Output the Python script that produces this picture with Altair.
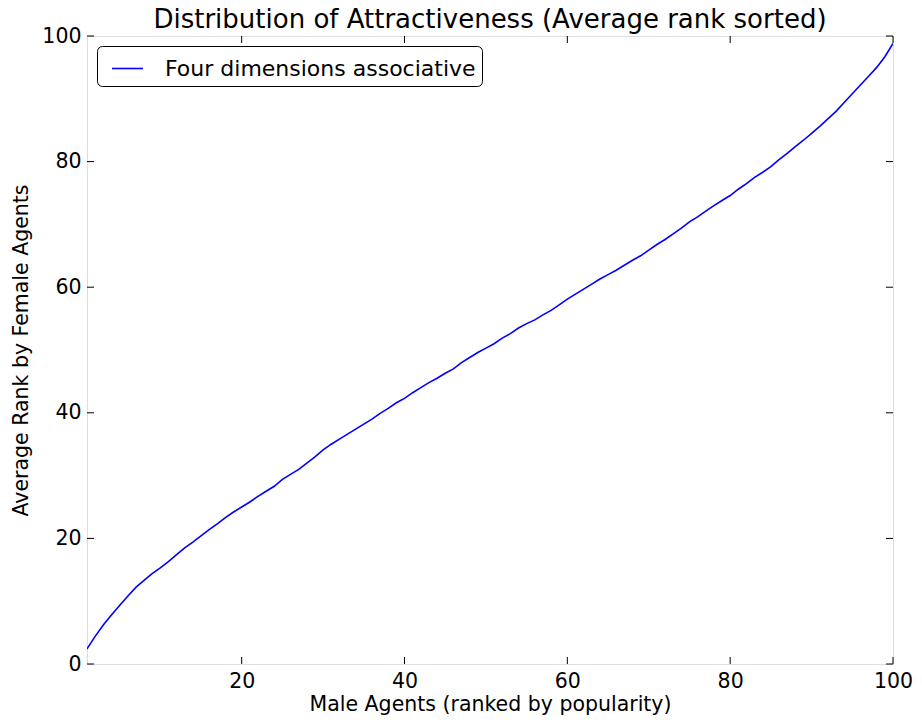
import altair as alt
import pandas as pd

ranks = list(range(1, 101))
avg_rank = [
    2.4, 4.4, 6.2, 7.8, 9.3, 10.8, 12.2, 13.3, 14.4, 15.3,
    16.3, 17.4, 18.5, 19.4, 20.4, 21.4, 22.3, 23.3, 24.2, 25.0,
    25.8, 26.7, 27.5, 28.3, 29.4, 30.2, 31.0, 32.0, 33.0, 34.1,
    35.0, 35.8, 36.6, 37.4, 38.2, 39.0, 39.9, 40.7, 41.6, 42.3,
    43.2, 44.0, 44.8, 45.5, 46.3, 47.0, 48.0, 48.8, 49.6, 50.3,
    51.0, 51.9, 52.6, 53.5, 54.2, 54.8, 55.6, 56.3, 57.2, 58.1,
    58.9, 59.7, 60.5, 61.3, 62.0, 62.7, 63.5, 64.3, 65.0, 65.9,
    66.8, 67.6, 68.5, 69.4, 70.4, 71.2, 72.1, 73.0, 73.8, 74.6,
    75.6, 76.5, 77.5, 78.3, 79.2, 80.3, 81.3, 82.4, 83.4, 84.5,
    85.6, 86.8, 88.0, 89.4, 90.8, 92.2, 93.6, 95.0, 96.7, 98.8,
]
series_name = "Four dimensions associative"
x_ticks = [20, 40, 60, 80, 100]
y_ticks = [0, 20, 40, 60, 80, 100]

W, H = 806, 628
TICK = 7
FONT = "DejaVu Sans"
FS = 20.5

df = pd.DataFrame({"rank": ranks, "avg": avg_rank, "series": series_name})
xt = pd.DataFrame({"rank": x_ticks})
yt = pd.DataFrame({"avg": y_ticks})

x_scale = alt.Scale(domain=[1, 100], nice=False, zero=False)
y_scale = alt.Scale(domain=[0, 100], nice=False, zero=False)

x_axis = alt.Axis(values=x_ticks, title="Male Agents (ranked by popularity)",
                  ticks=False, grid=False, domain=False, labelFontSize=FS,
                  labelPadding=7, titleFontSize=FS, titleFontWeight="normal",
                  titlePadding=3, labelColor="black", titleColor="black",
                  labelFont=FONT, titleFont=FONT, labelFlush=False)
y_axis = alt.Axis(values=y_ticks, title="Average Rank by Female Agents",
                  ticks=False, grid=False, domain=False, labelFontSize=FS,
                  labelPadding=6, titleFontSize=FS, titleFontWeight="normal",
                  titlePadding=10, labelColor="black", titleColor="black",
                  labelFont=FONT, titleFont=FONT, labelFlush=False)

line = alt.Chart(df).mark_line(strokeWidth=1.6, clip=True).encode(
    x=alt.X("rank:Q", scale=x_scale, axis=x_axis),
    y=alt.Y("avg:Q", scale=y_scale, axis=y_axis),
    color=alt.Color("series:N", scale=alt.Scale(range=["#0000ff"]),
                    legend=alt.Legend(title=None, orient="top-left",
                                      offset=10, padding=6,
                                      strokeColor="black", cornerRadius=5,
                                      fillColor="white",
                                      symbolType="stroke", symbolSize=960,
                                      symbolStrokeWidth=1.6, symbolOffset=8,
                                      labelFontSize=22, labelFont=FONT,
                                      labelColor="black", labelOffset=21,
                                      labelLimit=0)),
)

tick_style = dict(color="black", strokeWidth=1)
xb = alt.Chart(xt).mark_rule(**tick_style).encode(
    x=alt.X("rank:Q", scale=x_scale, axis=x_axis),
    y=alt.value(H), y2=alt.value(H - TICK))
xtop = alt.Chart(xt).mark_rule(**tick_style).encode(
    x=alt.X("rank:Q", scale=x_scale, axis=x_axis),
    y=alt.value(0), y2=alt.value(TICK))
yl = alt.Chart(yt).mark_rule(**tick_style).encode(
    y=alt.Y("avg:Q", scale=y_scale, axis=y_axis),
    x=alt.value(0), x2=alt.value(TICK))
yr = alt.Chart(yt).mark_rule(**tick_style).encode(
    y=alt.Y("avg:Q", scale=y_scale, axis=y_axis),
    x=alt.value(W), x2=alt.value(W - TICK))

chart = alt.layer(line, xb, xtop, yl, yr).properties(
    width=W, height=H,
    title=alt.TitleParams("Distribution of Attractiveness (Average rank sorted)",
                          fontSize=26, font=FONT, fontWeight="normal",
                          color="black", anchor="middle", offset=4, dy=11,
                          frame="group"),
    autosize=alt.AutoSizeParams(type="none"),
    padding={"left": 79, "top": 28, "right": 21, "bottom": 54},
).configure_view(stroke="black", strokeWidth=1.3).configure(background="white")

chart.save("out.html", embed_options={"renderer": "svg", "actions": False})
